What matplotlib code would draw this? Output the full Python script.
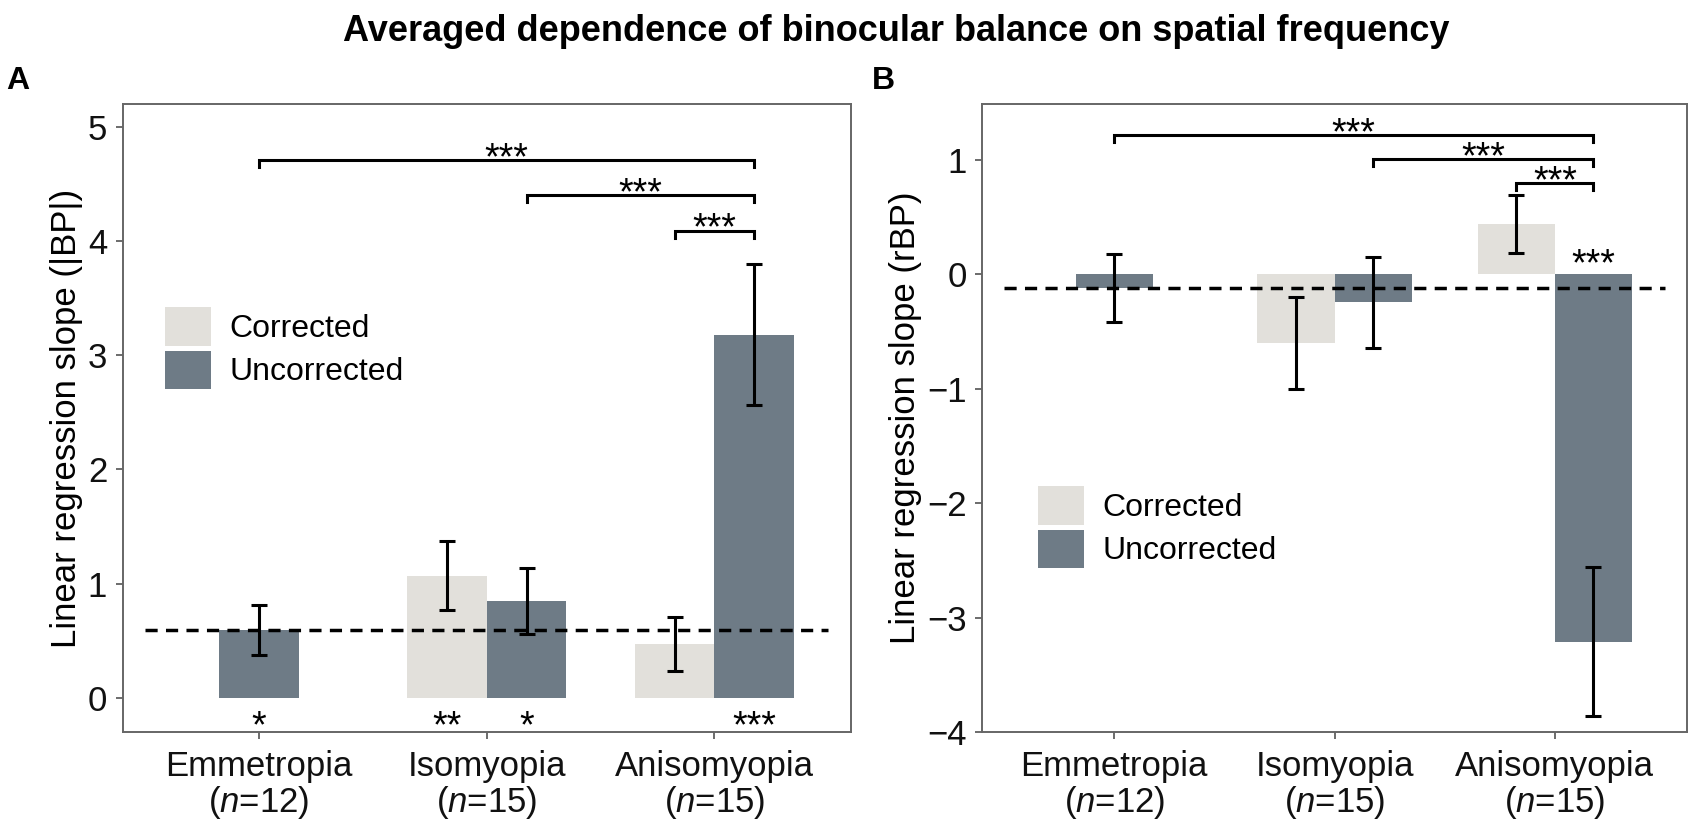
import numpy as np
import matplotlib
matplotlib.use("Agg")
import matplotlib.pyplot as plt
from matplotlib.patches import Patch

plt.rcParams['font.family'] = ['Liberation Sans', 'DejaVu Sans']
plt.rcParams['mathtext.fontset'] = 'custom'
plt.rcParams['mathtext.rm'] = 'Liberation Sans'
plt.rcParams['mathtext.it'] = 'Liberation Sans:italic'

# data
groups = ['Emmetropia', 'Isomyopia', 'Anisomyopia']
n_sizes = [12, 15, 15]
series = ['Corrected', 'Uncorrected']

# panel A: |BP| slopes (nan = no bar)
corr_a = [np.nan, 1.07, 0.47]
corr_a_err = [np.nan, 0.30, 0.24]
unc_a = [0.59, 0.85, 3.18]
unc_a_err = [0.22, 0.29, 0.615]
ref_a = 0.59

# panel B: rBP slopes
corr_b = [np.nan, -0.60, 0.44]
corr_b_err = [np.nan, 0.405, 0.255]
unc_b = [-0.12, -0.245, -3.21]
unc_b_err = [0.295, 0.40, 0.65]
ref_b = -0.12

# significance brackets: (series, group) -> (series, group), height
brackets_a = [((1, 0), (1, 2), 4.71), ((1, 1), (1, 2), 4.40), ((0, 2), (1, 2), 4.09)]
brackets_b = [((1, 0), (1, 2), 1.22), ((1, 1), (1, 2), 1.01), ((0, 2), (1, 2), 0.80)]
bracket_labels = ['***', '***', '***']
# stars on single bars: (series, group, label, y of star centre)
stars_a = [(1, 0, '*', -0.155), (0, 1, '**', -0.155), (1, 1, '*', -0.155), (1, 2, '***', -0.155)]
stars_b = [(1, 2, '***', 0.18)]

colors = ['#E2E0DB', '#6E7B86']
bar_w = 0.35
star_fs = 27


def bar_x(vals_c, s, g):
    # single bar is centred when the other series is missing
    if np.isnan(vals_c[g]):
        return g + 1
    return g + 1 + (-bar_w / 2 if s == 0 else bar_w / 2)


def panel(ax, corr, corr_err, unc, unc_err, ref, brackets, stars, ylim, yticks, ylabel, leg_xy, lab_x):
    data = [(corr, corr_err), (unc, unc_err)]
    for s, (vals, errs) in enumerate(data):
        for g in range(len(groups)):
            if np.isnan(vals[g]):
                continue
            x = bar_x(corr, s, g)
            ax.bar(x, vals[g], width=bar_w, color=colors[s], zorder=1)
            ax.errorbar(x, vals[g], yerr=errs[g], fmt='none', ecolor='black',
                        elinewidth=2.2, capsize=5.5, capthick=2.2, zorder=3)
    ln, = ax.plot([0.5, 3.5], [ref, ref], color='black', lw=2.5, zorder=2)
    ln.set_dashes([3.5, 2.4])

    for (a, b, h), lab in zip(brackets, bracket_labels):
        x1 = bar_x(corr, a[0], a[1])
        x2 = bar_x(corr, b[0], b[1])
        ax.plot([x1, x1, x2, x2], [h - 0.06, h, h, h - 0.06], color='black', lw=2.2,
                solid_joinstyle='miter', zorder=3)
        ax.annotate(lab, ((x1 + x2) / 2, h + 0.11), xytext=(0, -0.575 * star_fs),
                    textcoords='offset points', ha='center', va='baseline', fontsize=star_fs)
    for s, g, lab, y in stars:
        ax.annotate(lab, (bar_x(corr, s, g), y), xytext=(0, -0.575 * star_fs),
                    textcoords='offset points', ha='center', va='baseline', fontsize=star_fs)

    ax.set_xlim(0.4, 3.6)
    ax.set_ylim(*ylim)
    ax.set_yticks(yticks)
    ax.set_xticks([1, 2, 3])
    ax.set_xticklabels([f'{g}\n($\\mathit{{n}}$=%d)' % n for g, n in zip(groups, n_sizes)],
                       linespacing=1.05)
    ax.tick_params(labelsize=25, length=5, width=1.1, color='#444444', labelcolor='#111111')
    ax.tick_params(axis='x', pad=8)
    ax.tick_params(axis='y', pad=6)
    for sp in ax.spines.values():
        sp.set_color('#666666')
        sp.set_linewidth(1.4)
    ax.set_ylabel(ylabel, fontsize=25)
    ax.yaxis.set_label_coords(lab_x, 0.5)

    handles = [Patch(facecolor=c, edgecolor='none') for c in colors]
    ax.legend(handles, series, loc='upper left', bbox_to_anchor=leg_xy, frameon=False,
              fontsize=23, handlelength=1.46, handleheight=1.46, labelspacing=0.16,
              handletextpad=0.57, borderpad=0, borderaxespad=0)


W, H = 1701, 838
fig = plt.figure(figsize=(W / 100, H / 100), dpi=100)
ax_a = fig.add_axes([122.5 / W, (H - 732) / H, 728.5 / W, 628 / H])
ax_b = fig.add_axes([982 / W, (H - 732) / H, 705 / W, 628 / H])

panel(ax_a, corr_a, corr_a_err, unc_a, unc_a_err, ref_a, brackets_a, stars_a,
      (-0.30, 5.20), [0, 1, 2, 3, 4, 5], 'Linear regression slope (|BP|)', (0.058, 0.676), -0.054)
panel(ax_b, corr_b, corr_b_err, unc_b, unc_b_err, ref_b, brackets_b, stars_b,
      (-4.0, 1.49), [-4, -3, -2, -1, 0, 1], 'Linear regression slope (rBP)', (0.079, 0.391), -0.085)

fig.text(896 / W, (H - 41) / H, 'Averaged dependence of binocular balance on spatial frequency',
         ha='center', va='baseline', fontsize=26, fontweight='bold')
fig.text(6 / W, (H - 89) / H, 'A', ha='left', va='baseline', fontsize=23, fontweight='bold')
fig.text(872 / W, (H - 89) / H, 'B', ha='left', va='baseline', fontsize=23, fontweight='bold')

fig.savefig('out.png', dpi=100)
